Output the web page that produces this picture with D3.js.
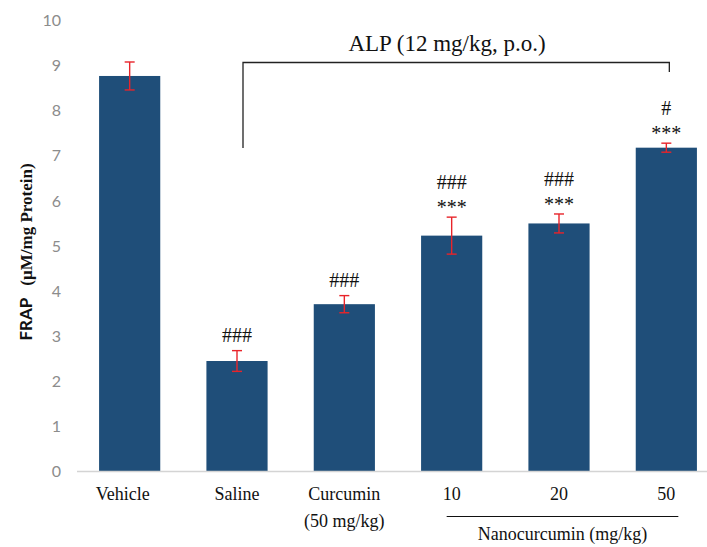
<!DOCTYPE html>
<html>
<head>
<meta charset="utf-8">
<script src="https://cdn.jsdelivr.net/npm/d3@7"></script>
<style>
  html, body { margin: 0; padding: 0; background: #ffffff; }
  svg { display: block; }
</style>
</head>
<body>
<svg id="chart" width="707" height="547"></svg>
<script>
// FRAP levels per treatment group (µM/mg protein), mean ± SEM
const groups = ["Vehicle", "Saline", "Curcumin", "10", "20", "50"];
const means  = [8.77, 2.45, 3.71, 5.23, 5.50, 7.18];
const sems   = [0.31, 0.23, 0.19, 0.41, 0.21, 0.10];
// significance marks, listed top line first
const marks  = [[], ["###"], ["###"], ["###", "***"], ["###", "***"], ["#", "***"]];
const subLabels = ["", "", "(50 mg/kg)", "", "", ""];
const yTicks = [0, 1, 2, 3, 4, 5, 6, 7, 8, 9, 10];

const svg = d3.select("#chart");
const serif = "'Liberation Serif', 'Times New Roman', serif";

const x = d3.scaleBand().domain(groups).range([76, 720]).paddingInner(0.43).paddingOuter(0.215);
const y = d3.scaleLinear().domain([0, 10]).range([471.5, 20.5]);

// y axis labels
const yAxis = d3.axisLeft(y).tickValues(yTicks).tickSize(0).tickPadding(16);
const gy = svg.append("g").attr("transform", "translate(77,0)").call(yAxis);
gy.select(".domain").remove();
gy.selectAll("text")
  .attr("fill", "#8c8c8c")
  .style("font-family", "Lato, 'Open Sans', sans-serif")
  .style("font-size", "16px");

// bars
svg.append("g").selectAll("rect").data(groups).join("rect")
  .attr("x", d => x(d))
  .attr("width", x.bandwidth())
  .attr("y", (d, i) => y(means[i]))
  .attr("height", (d, i) => y(0) - y(means[i]))
  .attr("fill", "#1f4e79");

// baseline
svg.append("line")
  .attr("x1", 77).attr("x2", 707)
  .attr("y1", y(0)).attr("y2", y(0))
  .attr("stroke", "#d4d4d4").attr("stroke-width", 1.5);

// error bars
const eb = svg.append("g").attr("stroke", "#e8242a").attr("stroke-width", 1.4);
groups.forEach((g, i) => {
  const cx = x(g) + x.bandwidth() / 2;
  const top = y(means[i] + sems[i]), bot = y(means[i] - sems[i]);
  eb.append("line").attr("x1", cx).attr("x2", cx).attr("y1", top).attr("y2", bot);
  eb.append("line").attr("x1", cx - 5).attr("x2", cx + 5).attr("y1", top).attr("y2", top);
  eb.append("line").attr("x1", cx - 5).attr("x2", cx + 5).attr("y1", bot).attr("y2", bot);
});

// significance marks above each error bar
groups.forEach((g, i) => {
  const cx = x(g) + x.bandwidth() / 2;
  const top = y(means[i] + sems[i]);
  const lines = marks[i].slice().reverse();
  lines.forEach((m, k) => {
    const isStar = m.startsWith("*");
    const base = isStar ? top - 3 : top - (k === 0 ? 9 : 28);
    svg.append("text")
      .attr("x", cx).attr("y", base)
      .attr("text-anchor", "middle")
      .style("font-family", serif)
      .style("font-size", "20px")
      .attr("fill", "#111")
      .text(m);
  });
});

// category labels
const xl = svg.append("g")
  .style("font-family", serif).style("font-size", "18px").attr("fill", "#111");
groups.forEach((g, i) => {
  const cx = x(g) + x.bandwidth() / 2;
  xl.append("text").attr("x", cx + (i === 0 ? -7 : 0)).attr("y", 500)
    .attr("text-anchor", "middle").text(g);
  if (subLabels[i]) {
    xl.append("text").attr("x", cx).attr("y", 527)
      .attr("text-anchor", "middle").text(subLabels[i]);
  }
});

// nanocurcumin dose group
const nStart = x("10") + x.bandwidth() / 2 - 5;
const nEnd = x("50") + x.bandwidth() / 2 + 12;
svg.append("line").attr("x1", nStart).attr("x2", nEnd)
  .attr("y1", 516.5).attr("y2", 516.5).attr("stroke", "#111").attr("stroke-width", 1.2);
xl.append("text").attr("x", (nStart + nEnd) / 2).attr("y", 540)
  .attr("text-anchor", "middle").text("Nanocurcumin (mg/kg)");

// ALP bracket over the treated groups
const bL = x("Saline") + x.bandwidth() / 2 + 6;
const bR = x("50") + x.bandwidth() / 2 + 3;
svg.append("path")
  .attr("d", `M${bL},148 V62.5 H${bR} V72`)
  .attr("fill", "none").attr("stroke", "#222").attr("stroke-width", 1.3);
svg.append("text")
  .attr("x", 447).attr("y", 51)
  .attr("text-anchor", "middle")
  .style("font-family", serif).style("font-size", "23px").attr("fill", "#111")
  .text("ALP (12 mg/kg, p.o.)");

// y axis title
const yt = svg.append("text")
  .attr("transform", "translate(32,252) rotate(-90)")
  .attr("text-anchor", "middle")
  .attr("fill", "#111")
  .style("font-weight", "bold");
yt.append("tspan").style("font-family", "Lato, 'Open Sans', sans-serif").style("font-size", "17px").text("FRAP");
yt.append("tspan").style("font-family", serif).style("font-size", "17px").attr("dx", 12).text("(µM/mg Protein)");
</script>
</body>
</html>
